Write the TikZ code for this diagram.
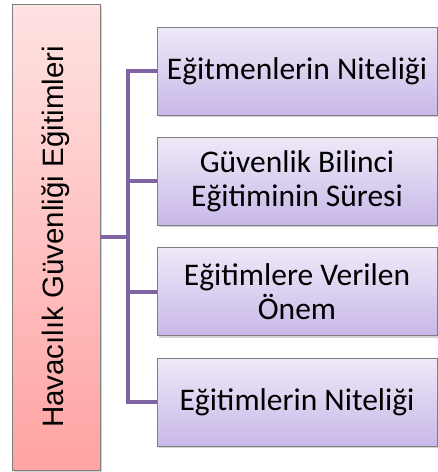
\documentclass[tikz,border=0pt]{standalone}
\usepackage{fontspec}
\usepackage{graphicx}
\setmainfont{Carlito}
\newfontfamily\arialfont{Liberation Sans}
\usetikzlibrary{shadows}

\definecolor{branchviolet}{HTML}{8064A2}
\definecolor{framegray}{HTML}{7F7F7F}
\definecolor{rosetop}{HTML}{FFE2E2}
\definecolor{rosebottom}{HTML}{FFA3A3}
\definecolor{lilactop}{HTML}{EEE9F8}
\definecolor{lilacbottom}{HTML}{C8B8E8}

\begin{document}
\begin{tikzpicture}[x=1pt, y=-1pt,
    boxshadow/.style={drop shadow={shadow xshift=2pt, shadow yshift=-2pt, opacity=0.35}},
    topicbox/.style={draw=framegray, line width=0.8pt, top color=rosetop, bottom color=rosebottom,
        minimum width=88pt, minimum height=466pt, inner sep=0pt, boxshadow},
    itembox/.style={draw=framegray, line width=0.8pt, top color=lilactop, bottom color=lilacbottom,
        minimum width=280pt, minimum height=88pt, inner sep=0pt, align=center,
        font=\fontsize{31.5}{34}\selectfont, boxshadow},
    branch/.style={draw=branchviolet, line width=4pt}]
    \useasboundingbox (0,0) rectangle (438,472);

    % Draw the main topic (left)
    \node[topicbox] (topic) at (56,237)
        {\rotatebox{90}{\fontsize{29.5}{32}\arialfont Havacılık Güvenliği Eğitimleri}};

    % Draw the four items (right)
    \node[itembox] (instructor) at (297,71) {Eğitmenlerin Niteliği};
    \node[itembox] (duration) at (297,181) {Güvenlik Bilinci\\Eğitiminin Süresi};
    \node[itembox] (importance) at (297,291.5) {Eğitimlere Verilen\\Önem};
    \node[itembox] (quality) at (297,402) {Eğitimlerin Niteliği};

    % Draw the connectors
    \draw[branch] (topic.east) -- ++(28,0) coordinate (fork);
    \draw[branch] (instructor.west) -| (fork) |- (quality.west);
    \draw[branch] (fork |- duration.west) -- (duration.west);
    \draw[branch] (fork |- importance.west) -- (importance.west);
\end{tikzpicture}
\end{document}
